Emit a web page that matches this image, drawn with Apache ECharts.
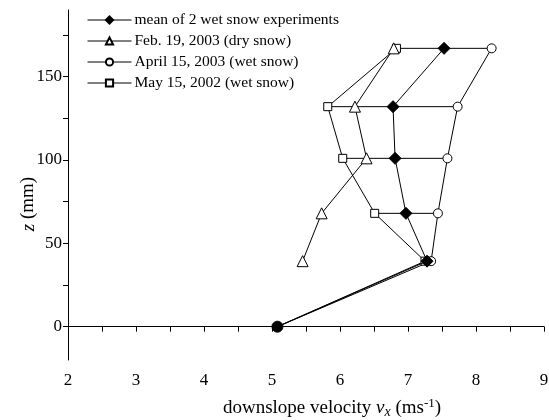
<!DOCTYPE html>
<html>
<head>
<meta charset="utf-8">
<script src="https://cdn.jsdelivr.net/npm/echarts@6/dist/echarts.min.js"></script>
<style>
  html, body { margin: 0; padding: 0; background: #fff; }
  #chart { width: 549px; height: 420px; }
</style>
</head>
<body>
<div id="chart"></div>
<script>
// Heights above the bed (mm)
const zLevels = [0, 39.3, 68, 101, 132, 167];
// Downslope velocity (m/s) at each height
const meanWet = [5.08, 7.28, 6.97, 6.81, 6.78, 7.53];
const feb2003 = [null, 5.45, 5.73, 6.39, 6.22, 6.79];
const apr2003 = [5.08, 7.34, 7.44, 7.58, 7.73, 8.23];
const may2002 = [5.08, 7.25, 6.51, 6.04, 5.82, 6.83];

const names = [
  'mean of 2 wet snow experiments',
  'Feb. 19, 2003 (dry snow)',
  'April 15, 2003 (wet snow)',
  'May 15, 2002 (wet snow)'
];
const xTicks = [2, 3, 4, 5, 6, 7, 8, 9];
const yTicks = [0, 50, 100, 150];
const yMinorTicks = [0, 25, 50, 75, 100, 125, 150, 175];

const FONT = 'Liberation Serif';

function pairs(xs, hideFirst) {
  const out = [];
  xs.forEach((x, i) => {
    if (x === null) return;
    if (hideFirst && i === 0) out.push({ value: [x, zLevels[i]], symbol: 'none' });
    else out.push([x, zLevels[i]]);
  });
  return out;
}

const base = {
  type: 'line',
  color: '#000',
  lineStyle: { color: '#000', width: 1 },
  itemStyle: { color: '#fff', borderColor: '#000', borderWidth: 1 },
  animation: false,
  z: 3
};

const series = [];
// horizontal links between the two wet snow profiles at each height
zLevels.forEach((z, i) => {
  if (i === 0) return;
  series.push({
    type: 'line', name: 'level' + i, symbol: 'none', silent: true,
    lineStyle: { color: '#000', width: 1 }, animation: false, z: 2,
    data: [[may2002[i], z], [apr2003[i], z]]
  });
});

series.push(Object.assign({}, base, {
  name: names[2], symbol: 'circle', symbolSize: 9,
  data: pairs(apr2003, true)
}));
series.push(Object.assign({}, base, {
  name: names[3], symbol: 'rect', symbolSize: 8,
  data: pairs(may2002, true)
}));
series.push(Object.assign({}, base, {
  name: names[1], symbol: 'triangle', symbolSize: 11,
  data: pairs(feb2003, false)
}));
series.push(Object.assign({}, base, {
  name: names[0], symbol: 'diamond', symbolSize: 12,
  itemStyle: { color: '#000', borderColor: '#000', borderWidth: 1 },
  z: 4,
  data: meanWet.map((x, i) => i === 0
    ? { value: [x, zLevels[i]], symbol: 'circle', symbolSize: 11 }
    : [x, zLevels[i]])
}));

const chart = echarts.init(document.getElementById('chart'), null, { renderer: 'canvas' });
chart.setOption({
  backgroundColor: '#fff',
  animation: false,
  grid: { left: 68, right: 5, top: 10, bottom: 60, containLabel: false, outerBoundsMode: 'none' },
  legend: {
    data: names,
    orient: 'vertical',
    left: 82, top: 7,
    itemWidth: 44, itemHeight: 9, itemGap: 5,
    lineStyle: { width: 1 },
    textStyle: { fontFamily: FONT, fontSize: 15.5, color: '#000', padding: [0, 0, 0, -2] },
    inactiveColor: '#000'
  },
  xAxis: {
    type: 'value', min: 2, max: 9, interval: 1,
    axisLine: { lineStyle: { color: '#000', width: 1 } },
    axisTick: { show: true, inside: false, length: 5, lineStyle: { color: '#000' } },
    minorTick: { show: true, splitNumber: 2, length: 5, lineStyle: { color: '#000' } },
    splitLine: { show: false },
    axisLabel: { fontFamily: FONT, fontSize: 17, color: '#000', margin: 12,
      customValues: xTicks },
    name: 'downslope velocity {i|v}{sub|x}{n| (ms}{sup|-1}{n|)}',
    nameLocation: 'middle', nameGap: 37,
    nameTextStyle: {
      fontFamily: FONT, fontSize: 19, color: '#000', padding: [0, 0, 0, 52],
      rich: {
        i: { fontFamily: FONT, fontSize: 19, fontStyle: 'italic', color: '#000' },
        sub: { fontFamily: FONT, fontSize: 14, fontStyle: 'italic', color: '#000', padding: [8, 0, 0, 0] },
        n: { fontFamily: FONT, fontSize: 19, color: '#000' },
        sup: { fontFamily: FONT, fontSize: 13, color: '#000', padding: [0, 0, 9, 0] }
      }
    }
  },
  yAxis: {
    type: 'value', min: -20, max: 190,
    axisLine: { show: true, lineStyle: { color: '#000', width: 1 } },
    axisTick: { show: true, inside: false, length: 5, lineStyle: { color: '#000' },
      customValues: yMinorTicks },
    splitLine: { show: false },
    axisLabel: { fontFamily: FONT, fontSize: 17, color: '#000', margin: 6,
      customValues: yTicks },
    name: '{i|z} (mm)',
    nameLocation: 'middle', nameGap: 30, nameRotate: 90,
    nameMoveOverlap: false,
    nameTextStyle: {
      fontFamily: FONT, fontSize: 19, color: '#000', padding: [0, 38, 0, 0],
      rich: { i: { fontFamily: FONT, fontSize: 19, fontStyle: 'italic', color: '#000' } }
    }
  },
  series: series
});
</script>
</body>
</html>
